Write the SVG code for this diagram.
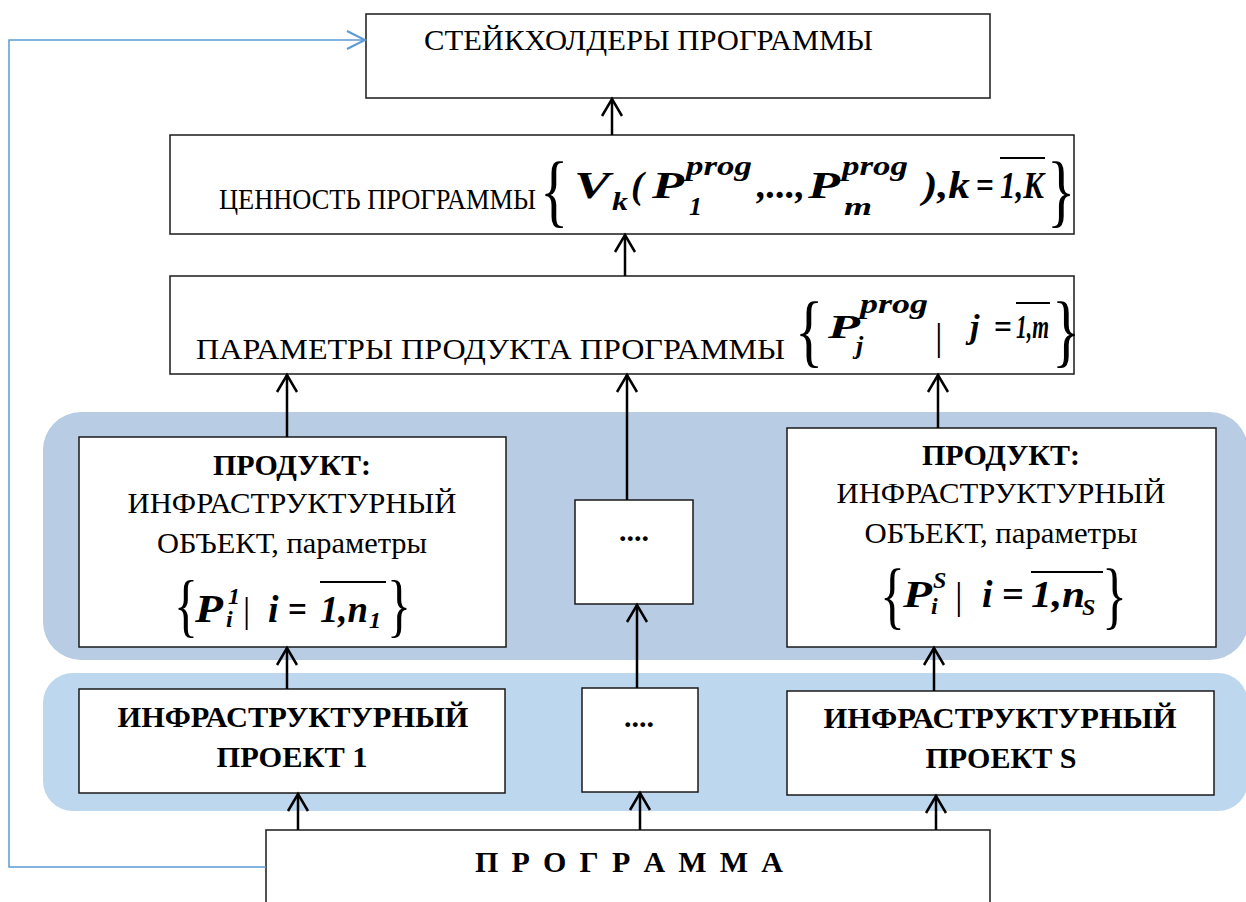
<svg xmlns="http://www.w3.org/2000/svg" width="1246" height="902" viewBox="0 0 1246 902">
<style>
.box{fill:#fff;stroke:#1a1a1a;stroke-width:1.5}
.t{font-family:"Liberation Serif","Times New Roman",serif;font-size:30px;fill:#000}
.c{text-anchor:middle}
.b{font-weight:bold}
.m{font-family:"Liberation Serif","Times New Roman",serif;font-weight:bold;font-style:italic;fill:#000}
.up{font-style:normal}
.br{font-family:"Liberation Serif","Times New Roman",serif;font-weight:normal;fill:#000}
.ov{stroke:#000;stroke-width:2;fill:none}
.conn{stroke:#000;stroke-width:2.5;fill:none}
.fb{stroke:#5b9bd5;stroke-width:1.5;fill:none}
</style>
<defs>
<marker id="ah" markerUnits="userSpaceOnUse" markerWidth="40" markerHeight="40" viewBox="-20 -20 40 40" refX="0" refY="0" orient="auto" overflow="visible">
<path d="M-17,-10 L0,0 L-17,10" fill="none" stroke="#000" stroke-width="2.5"/>
</marker>
<marker id="ahb" markerUnits="userSpaceOnUse" markerWidth="40" markerHeight="40" viewBox="-20 -20 40 40" refX="0" refY="0" orient="auto" overflow="visible">
<path d="M-18,-9 L0,0 L-18,9" fill="none" stroke="#5b9bd5" stroke-width="2"/>
</marker>
</defs>
<rect width="1246" height="902" fill="#fff"/>

<rect id="band-products" x="43" y="412" width="1205" height="248" rx="38" fill="#b8cce4"/>
<rect id="band-projects" x="43" y="673" width="1205" height="138" rx="30" fill="#bdd7ee"/>

<g id="stakeholders">
<rect class="box" x="366" y="14" width="624" height="84"/>
<text class="t" x="424" y="50" textLength="449" lengthAdjust="spacingAndGlyphs">СТЕЙКХОЛДЕРЫ ПРОГРАММЫ</text>
</g>

<g id="value">
<rect class="box" x="170" y="135" width="904" height="99"/>
<text class="t" x="219" y="209" textLength="317" lengthAdjust="spacingAndGlyphs">ЦЕННОСТЬ ПРОГРАММЫ</text>
<text class="br" transform="translate(540,217) scale(1.05,1.45)" font-size="56">{</text>
<text class="m" x="574" y="198" font-size="38" textLength="36" lengthAdjust="spacingAndGlyphs">V</text>
<text class="m" x="612" y="210" font-size="26" textLength="16" lengthAdjust="spacingAndGlyphs">k</text>
<text class="m" x="631" y="198" font-size="38">(</text>
<text class="m" x="652" y="198" font-size="38" textLength="32" lengthAdjust="spacingAndGlyphs">P</text>
<text class="m" x="686" y="175" font-size="28" textLength="66" lengthAdjust="spacingAndGlyphs">prog</text>
<text class="m" x="689" y="215" font-size="26">1</text>
<text class="m" x="757" y="198" font-size="38" textLength="48" lengthAdjust="spacingAndGlyphs">,...,</text>
<text class="m" x="808" y="198" font-size="38" textLength="32" lengthAdjust="spacingAndGlyphs">P</text>
<text class="m" x="842" y="175" font-size="28" textLength="66" lengthAdjust="spacingAndGlyphs">prog</text>
<text class="m" x="844" y="215" font-size="26" textLength="28" lengthAdjust="spacingAndGlyphs">m</text>
<text class="m" x="923" y="198" font-size="38" textLength="47" lengthAdjust="spacingAndGlyphs">),k</text>
<text class="m up" x="976" y="198" font-size="38" textLength="18" lengthAdjust="spacingAndGlyphs">=</text>
<text class="m" x="1000" y="198" font-size="38" textLength="44" lengthAdjust="spacingAndGlyphs">1,K</text>
<line class="ov" x1="1000" y1="158" x2="1045" y2="158"/>
<text class="br" transform="translate(1047,217) scale(1.05,1.45)" font-size="56">}</text>
</g>

<g id="params">
<rect class="box" x="170" y="276" width="904" height="98"/>
<text class="t" x="196" y="359" textLength="589" lengthAdjust="spacingAndGlyphs">ПАРАМЕТРЫ ПРОДУКТА ПРОГРАММЫ</text>
<text class="br" transform="translate(795,357) scale(1.05,1.45)" font-size="56">{</text>
<text class="m" x="828" y="338" font-size="34" textLength="32" lengthAdjust="spacingAndGlyphs">P</text>
<text class="m" x="860" y="313" font-size="28" textLength="68" lengthAdjust="spacingAndGlyphs">prog</text>
<text class="m" x="856" y="354" font-size="26">j</text>
<text class="br" x="935" y="350" font-size="38">|</text>
<text class="m" x="970" y="338" font-size="34">j</text>
<text class="m up" x="994" y="338" font-size="34" textLength="18" lengthAdjust="spacingAndGlyphs">=</text>
<text class="m" x="1016" y="338" font-size="34" textLength="33" lengthAdjust="spacingAndGlyphs">1,m</text>
<line class="ov" x1="1016" y1="303" x2="1050" y2="303"/>
<text class="br" transform="translate(1052,357) scale(1.05,1.45)" font-size="56">}</text>
</g>

<g id="product-1">
<rect class="box" x="79" y="437" width="427" height="210"/>
<text class="t b c" x="292" y="475">ПРОДУКТ:</text>
<text class="t c" x="292" y="513" textLength="329" lengthAdjust="spacingAndGlyphs">ИНФРАСТРУКТУРНЫЙ</text>
<text class="t c" x="292" y="553" textLength="270" lengthAdjust="spacingAndGlyphs">ОБЪЕКТ, параметры</text>
<text class="br" transform="translate(174,629) scale(1.0,1.4)" font-size="50">{</text>
<text class="m" x="195" y="622" font-size="40" textLength="28" lengthAdjust="spacingAndGlyphs">P</text>
<text class="m" x="228" y="604" font-size="24">1</text>
<text class="m" x="226" y="627" font-size="24">i</text>
<text class="br" x="243" y="622" font-size="36">|</text>
<text class="m" x="268" y="622" font-size="38">i</text>
<text class="m up" x="288" y="622" font-size="38" textLength="19" lengthAdjust="spacingAndGlyphs">=</text>
<text class="m" x="320" y="622" font-size="38" textLength="48" lengthAdjust="spacingAndGlyphs">1,n</text>
<text class="m" x="369" y="628" font-size="24">1</text>
<line class="ov" x1="320" y1="582" x2="386" y2="582"/>
<text class="br" transform="translate(387,629) scale(1.0,1.4)" font-size="50">}</text>
</g>

<g id="product-dots">
<rect class="box" x="575" y="500" width="118" height="104"/>
<text class="t b c" x="634" y="541">....</text>
</g>

<g id="product-s">
<rect class="box" x="787" y="428" width="429" height="219"/>
<text class="t b c" x="1001" y="465">ПРОДУКТ:</text>
<text class="t c" x="1001" y="503" textLength="329" lengthAdjust="spacingAndGlyphs">ИНФРАСТРУКТУРНЫЙ</text>
<text class="t c" x="1001" y="543" textLength="273" lengthAdjust="spacingAndGlyphs">ОБЪЕКТ, параметры</text>
<text class="br" transform="translate(880,620) scale(1.0,1.435)" font-size="52">{</text>
<text class="m" x="903" y="607" font-size="38" textLength="29" lengthAdjust="spacingAndGlyphs">P</text>
<text class="m" x="933" y="588" font-size="24">S</text>
<text class="m" x="931" y="614" font-size="24">i</text>
<text class="br" x="955" y="609" font-size="38">|</text>
<text class="m" x="982" y="607" font-size="38">i</text>
<text class="m up" x="1002" y="607" font-size="38" textLength="22" lengthAdjust="spacingAndGlyphs">=</text>
<text class="m" x="1031" y="607" font-size="38" textLength="54" lengthAdjust="spacingAndGlyphs">1,n</text>
<text class="m" x="1082" y="615" font-size="24">S</text>
<line class="ov" x1="1031" y1="572" x2="1103" y2="572"/>
<text class="br" transform="translate(1102,620) scale(1.0,1.435)" font-size="52">}</text>
</g>

<g id="project-1">
<rect class="box" x="79" y="689" width="426" height="104"/>
<text class="t b c" x="293" y="727" textLength="351" lengthAdjust="spacingAndGlyphs">ИНФРАСТРУКТУРНЫЙ</text>
<text class="t b c" x="292" y="767" textLength="151" lengthAdjust="spacingAndGlyphs">ПРОЕКТ 1</text>
</g>

<g id="project-dots">
<rect class="box" x="582" y="688" width="116" height="104"/>
<text class="t b c" x="639" y="727">....</text>
</g>

<g id="project-s">
<rect class="box" x="787" y="691" width="427" height="104"/>
<text class="t b c" x="1000" y="728" textLength="353" lengthAdjust="spacingAndGlyphs">ИНФРАСТРУКТУРНЫЙ</text>
<text class="t b c" x="1001" y="768" textLength="151" lengthAdjust="spacingAndGlyphs">ПРОЕКТ S</text>
</g>

<g id="program">
<rect class="box" x="266" y="830" width="724" height="80"/>
<text class="t b" x="475" y="872" textLength="308" lengthAdjust="spacing">П Р О Г Р А М М А</text>
</g>

<g id="connectors">
<line class="conn" x1="612" y1="135" x2="612" y2="99" marker-end="url(#ah)"/>
<line class="conn" x1="625" y1="276" x2="625" y2="235" marker-end="url(#ah)"/>
<line class="conn" x1="287" y1="437" x2="287" y2="375" marker-end="url(#ah)"/>
<line class="conn" x1="627" y1="500" x2="627" y2="375" marker-end="url(#ah)"/>
<line class="conn" x1="938" y1="428" x2="938" y2="375" marker-end="url(#ah)"/>
<line class="conn" x1="287" y1="689" x2="287" y2="648" marker-end="url(#ah)"/>
<line class="conn" x1="637" y1="688" x2="637" y2="605" marker-end="url(#ah)"/>
<line class="conn" x1="934" y1="691" x2="934" y2="648" marker-end="url(#ah)"/>
<line class="conn" x1="298" y1="830" x2="298" y2="794" marker-end="url(#ah)"/>
<line class="conn" x1="640" y1="830" x2="640" y2="793" marker-end="url(#ah)"/>
<line class="conn" x1="936" y1="830" x2="936" y2="796" marker-end="url(#ah)"/>
<polyline class="fb" points="266,867 9,867 9,40 365,40" marker-end="url(#ahb)"/>
</g>
</svg>
